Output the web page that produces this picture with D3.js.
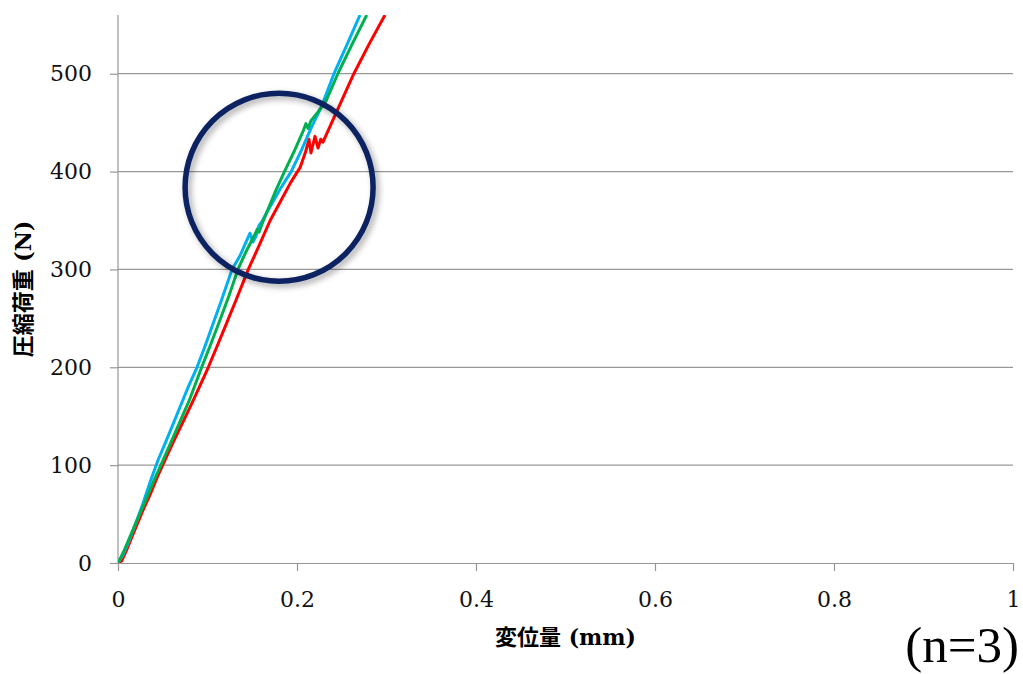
<!DOCTYPE html>
<html>
<head>
<meta charset="utf-8">
<script src="https://cdn.jsdelivr.net/npm/d3@7"></script>
<style>
  body { margin: 0; background: #fff; }
  svg { display: block; }
</style>
</head>
<body>
<svg id="chart"></svg>
<script>
// tick values
const xTicks = [0, 0.2, 0.4, 0.6, 0.8, 1];
const yTicks = [0, 100, 200, 300, 400, 500];

// [displacement mm, load N]
const blueRun = [
  [0, 0], [0.006, 9], [0.012, 22], [0.02, 41], [0.028, 61], [0.036, 83], [0.0447, 105],
  [0.053, 123], [0.062, 143], [0.07, 161], [0.079, 181], [0.0883, 200], [0.097, 221],
  [0.106, 244], [0.115, 267], [0.1274, 300], [0.1363, 314], [0.143, 328], [0.1475, 337],
  [0.1508, 328], [0.1542, 334], [0.1575, 345], [0.1609, 349], [0.1654, 357], [0.173, 369],
  [0.181, 382], [0.1935, 400], [0.205, 422], [0.216, 445], [0.2276, 467], [0.2413, 500],
  [0.256, 530], [0.2704, 560]
];
const greenRun = [
  [0, 0], [0.006, 11], [0.013, 26], [0.021, 43], [0.03, 62], [0.04, 84], [0.0503, 105],
  [0.06, 125], [0.07, 146], [0.08, 167], [0.0935, 200], [0.103, 222], [0.113, 246],
  [0.124, 273], [0.134, 300], [0.1419, 316], [0.148, 327], [0.1531, 336], [0.1555, 341],
  [0.1575, 338], [0.162, 349], [0.1765, 381], [0.186, 400], [0.197, 421], [0.2067, 441],
  [0.21, 449], [0.2123, 444], [0.2156, 452], [0.2235, 461], [0.2324, 472], [0.2461, 501],
  [0.2615, 530], [0.2779, 560]
];
const redRun = [
  [0, 0], [0.004, 2], [0.01, 14], [0.018, 32], [0.027, 52], [0.036, 70], [0.044, 88],
  [0.0525, 105], [0.062, 124], [0.072, 143], [0.082, 162], [0.0915, 181], [0.1009, 200],
  [0.11, 220], [0.12, 242], [0.1325, 270], [0.1456, 300], [0.158, 325], [0.17, 350],
  [0.183, 372], [0.193, 389], [0.2034, 404], [0.2095, 420], [0.2134, 433], [0.2156, 419],
  [0.2201, 436], [0.2235, 424], [0.2265, 433], [0.229, 430], [0.2635, 500],
  [0.281, 531], [0.2983, 560]
];
// highlight ring centre [mm, N]
const ringCentre = [0.18, 384];

const W = 1023, H = 674;
const plotL = 118, plotR = 1013, plotT = 15, plotB = 563;

const svg = d3.select("#chart").attr("width", W).attr("height", H);

const defs = svg.append("defs");
defs.append("clipPath").attr("id", "plotClip")
  .append("rect").attr("x", plotL).attr("y", plotT)
  .attr("width", plotR - plotL).attr("height", plotB - plotT);
defs.append("filter").attr("id", "ringShadow")
  .attr("x", "-20%").attr("y", "-20%").attr("width", "140%").attr("height", "140%")
  .append("feDropShadow")
  .attr("dx", 3).attr("dy", 3).attr("stdDeviation", 3)
  .attr("flood-color", "#000").attr("flood-opacity", 0.35);

const x = d3.scaleLinear().domain([0, 1]).range([plotL, plotR]);
const y = d3.scaleLinear().domain([0, 560]).range([plotB, plotT]);

// grid
svg.append("g")
  .selectAll("line")
  .data(yTicks.filter(d => d > 0))
  .enter().append("line")
  .attr("x1", plotL).attr("x2", plotR)
  .attr("y1", d => y(d)).attr("y2", d => y(d))
  .attr("stroke", "#979797").attr("stroke-width", 1.2);

const xAxis = svg.append("g")
  .attr("transform", `translate(0,${plotB})`)
  .call(d3.axisBottom(x).tickValues(xTicks).tickSize(8).tickSizeOuter(0).tickPadding(20).tickFormat(d => String(d)));
const yAxis = svg.append("g")
  .attr("transform", `translate(${plotL},0)`)
  .call(d3.axisLeft(y).tickValues(yTicks).tickSize(8).tickSizeOuter(0).tickPadding(18));

[xAxis, yAxis].forEach(g => {
  g.selectAll("path, line").attr("stroke", "#979797").attr("stroke-width", 1.2);
  g.selectAll("text")
    .attr("font-family", "'DejaVu Serif', serif")
    .attr("font-size", 22)
    .attr("fill", "#111");
});
// y axis line runs up to the top of the plot
yAxis.select(".domain").attr("d", `M0,${plotT}V${plotB}`);

const line = d3.line().x(d => x(d[0])).y(d => y(d[1]));

const runs = [
  { data: redRun, color: "#ff0000" },
  { data: blueRun, color: "#00b0f0" },
  { data: greenRun, color: "#00b050" }
];
svg.append("g").attr("clip-path", "url(#plotClip)")
  .selectAll("path")
  .data(runs)
  .enter().append("path")
  .attr("d", d => line(d.data))
  .attr("fill", "none")
  .attr("stroke", d => d.color)
  .attr("stroke-width", 3)
  .attr("stroke-linejoin", "round");

// ring
svg.append("circle")
  .attr("cx", x(ringCentre[0]))
  .attr("cy", y(ringCentre[1]))
  .attr("r", 94)
  .attr("fill", "none")
  .attr("stroke", "#0b2260")
  .attr("stroke-width", 5.5)
  .attr("filter", "url(#ringShadow)");

// titles
svg.append("text")
  .attr("x", (plotL + plotR) / 2)
  .attr("y", 645)
  .attr("text-anchor", "middle")
  .attr("font-family", "'DejaVu Serif', 'Noto Sans CJK JP', serif")
  .attr("font-weight", "bold")
  .attr("font-size", 22)
  .attr("fill", "#000")
  .text("変位量 (mm)");

svg.append("text")
  .attr("transform", `translate(31,${(plotT + plotB) / 2}) rotate(-90)`)
  .attr("text-anchor", "middle")
  .attr("font-family", "'DejaVu Serif', 'Noto Sans CJK JP', serif")
  .attr("font-weight", "bold")
  .attr("font-size", 22)
  .attr("fill", "#000")
  .text("圧縮荷重 (N)");

svg.append("text")
  .attr("x", 1019)
  .attr("y", 662)
  .attr("text-anchor", "end")
  .attr("font-family", "'Liberation Serif', 'Times New Roman', serif")
  .attr("font-size", 51)
  .attr("fill", "#000")
  .text("(n=3)");
</script>
</body>
</html>
